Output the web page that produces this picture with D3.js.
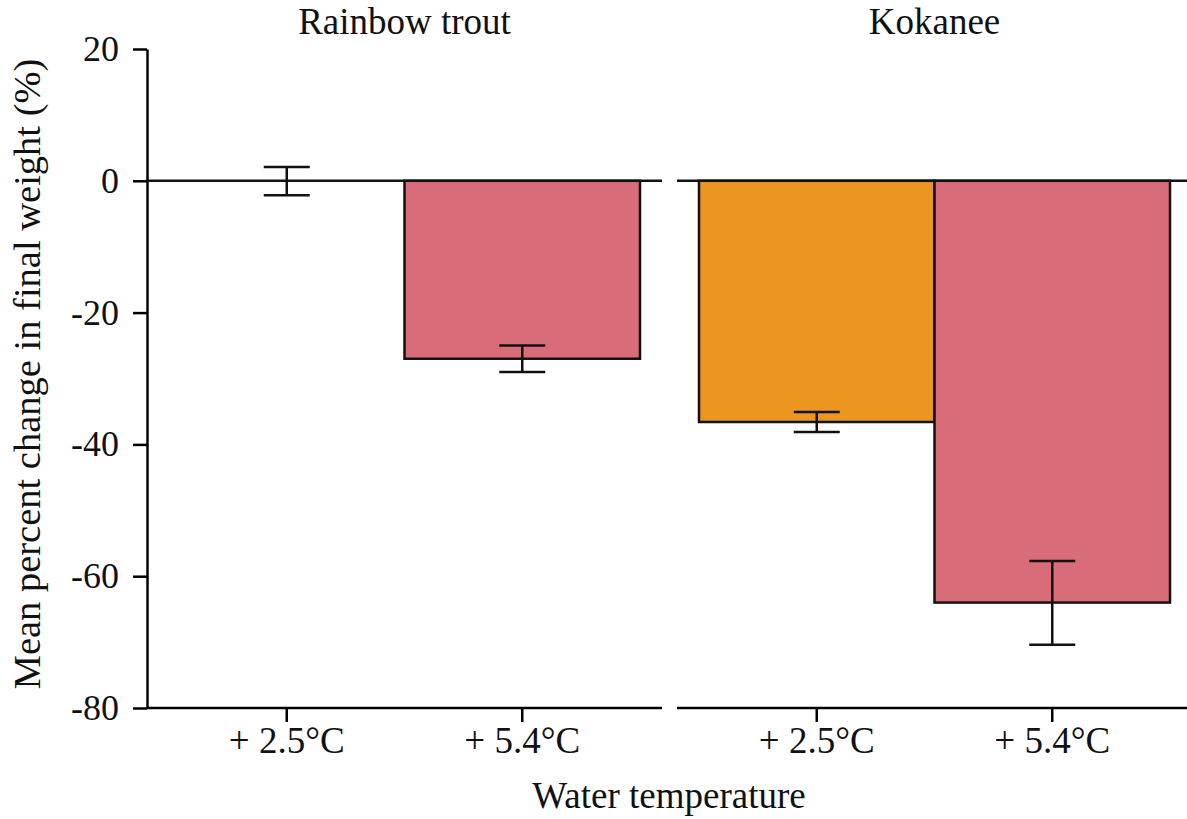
<!DOCTYPE html>
<html>
<head>
<meta charset="utf-8">
<script src="https://cdn.jsdelivr.net/npm/d3@7"></script>
</head>
<body style="margin:0; background:#fff">
<script>
// data
const species = ["Rainbow trout", "Kokanee"];
const temps = ["+ 2.5°C", "+ 5.4°C"];
const rainbowMean = [0, -27.0];
const rainbowLow = [-2.2, -29.0];
const rainbowHigh = [2.1, -25.0];
const kokaneeMean = [-36.6, -64.0];
const kokaneeLow = [-38.1, -70.4];
const kokaneeHigh = [-35.1, -57.7];
const yTicks = [-80, -60, -40, -20, 0, 20];
const colors = ["#EC9622", "#D96C79"];

const serif = '"Liberation Serif"';

const rows = [
  temps.map((t, i) => ({temp: t, mean: rainbowMean[i], lo: rainbowLow[i], hi: rainbowHigh[i]})),
  temps.map((t, i) => ({temp: t, mean: kokaneeMean[i], lo: kokaneeLow[i], hi: kokaneeHigh[i]}))
];

const width = 1187, height = 819;
const svg = d3.select("body").append("svg")
    .attr("width", width)
    .attr("height", height);

const y = d3.scaleLinear().domain([-80, 20]).range([708, 49]);
const panels = [[147, 662], [677, 1192]];
const color = d3.scaleOrdinal().domain(temps).range(colors);

function styleText(sel, size = 37) {
  sel.style("font-family", serif)
     .style("font-size", size + "px")
     .style("fill", "#111");
}

// y axis (left panel only)
const yAxis = svg.append("g")
    .attr("transform", `translate(${panels[0][0]},0)`)
    .call(d3.axisLeft(y).tickValues(yTicks).tickFormat(d => String(d))
      .tickSize(14).tickPadding(14).tickSizeOuter(0));
yAxis.select(".domain").attr("stroke-width", 2.5);
yAxis.selectAll(".tick line").attr("stroke-width", 2.5);
yAxis.selectAll(".tick text").call(styleText, 36);

species.forEach((sp, p) => {
  const [x0, x1] = panels[p];
  const x = d3.scaleBand().domain(temps).range([x0 + 22, x1 - 22]).padding(0);
  const g = svg.append("g");

  // zero line
  g.append("line")
      .attr("x1", x0).attr("x2", x1)
      .attr("y1", y(0)).attr("y2", y(0))
      .attr("stroke", "#111").attr("stroke-width", 2.5);

  // bars
  g.selectAll("rect.bar")
    .data(rows[p].filter(d => d.mean !== 0))
    .enter().append("rect")
      .attr("class", "bar")
      .attr("x", d => x(d.temp))
      .attr("width", x.bandwidth())
      .attr("y", d => y(Math.max(0, d.mean)))
      .attr("height", d => Math.abs(y(d.mean) - y(0)))
      .attr("fill", d => color(d.temp))
      .attr("stroke", "#111")
      .attr("stroke-width", 2.5);

  // error bars
  const eb = g.selectAll("g.err")
    .data(rows[p])
    .enter().append("g")
      .attr("class", "err")
      .attr("stroke", "#111")
      .attr("stroke-width", 2.5);
  eb.append("line")
      .attr("x1", d => x(d.temp) + x.bandwidth() / 2)
      .attr("x2", d => x(d.temp) + x.bandwidth() / 2)
      .attr("y1", d => y(d.hi))
      .attr("y2", d => y(d.lo));
  [d => d.hi, d => d.lo].forEach(f => {
    eb.append("line")
        .attr("x1", d => x(d.temp) + x.bandwidth() / 2 - 23)
        .attr("x2", d => x(d.temp) + x.bandwidth() / 2 + 23)
        .attr("y1", d => y(f(d)))
        .attr("y2", d => y(f(d)));
  });

  // x axis
  const xAxis = svg.append("g")
      .attr("transform", `translate(0,${y(-80)})`)
      .call(d3.axisBottom(x).tickSize(14).tickPadding(5).tickSizeOuter(0));
  xAxis.select(".domain")
      .attr("d", `M${x0},0H${x1}`)
      .attr("stroke-width", 2.5);
  xAxis.selectAll(".tick line").attr("stroke-width", 2.5);
  xAxis.selectAll(".tick text").call(styleText);

  // panel title
  svg.append("text")
      .attr("x", (x0 + x1) / 2)
      .attr("y", 34)
      .attr("text-anchor", "middle")
      .call(styleText)
      .text(sp);
});

// axis titles
svg.append("text")
    .attr("transform", "translate(40,374) rotate(-90)")
    .attr("text-anchor", "middle")
    .call(styleText, 38.5)
    .text("Mean percent change in final weight (%)");

svg.append("text")
    .attr("x", 669)
    .attr("y", 808)
    .attr("text-anchor", "middle")
    .call(styleText)
    .text("Water temperature");
</script>
</body>
</html>
